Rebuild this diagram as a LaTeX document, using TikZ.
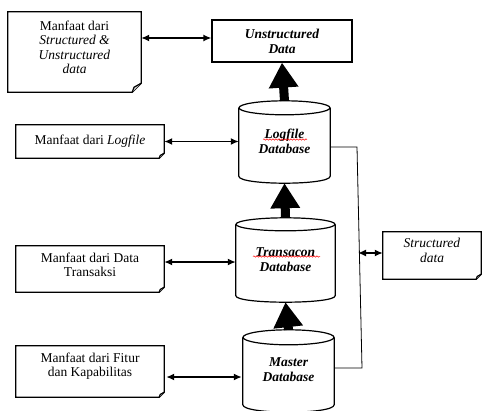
\documentclass[tikz,border=0pt]{standalone}
\usepackage{fontspec}
\setmainfont{Liberation Serif}
\usetikzlibrary{arrows.meta,decorations.pathmorphing}
\newcommand\docshape[2]{%
  \draw[boxline] (#1.north west) -- (#1.north east) -- ([yshift=#2pt]#1.south east)
    -- ([xshift=-#2pt]#1.south east) -- (#1.south west) -- cycle;
  \filldraw[boxline,fill=gray!35] ([yshift=#2pt]#1.south east) -- ([xshift={-0.8*#2pt},yshift={0.55*#2pt}]#1.south east)
    -- ([xshift=-#2pt]#1.south east);
}
\newcommand\cylshape[3]{%
  \draw[boxline] ([yshift=-#3pt]#1.north) ellipse [x radius=#2pt, y radius=#3pt];
  \draw[boxline] ([yshift=-#3pt]#1.north west) -- ([yshift=#3pt]#1.south west)
    .. controls ([yshift={-0.3333*#3pt}]#1.south west) and ([yshift={-0.3333*#3pt}]#1.south east)
    .. ([yshift=#3pt]#1.south east) -- ([yshift=-#3pt]#1.north east);
}
\begin{document}
\begin{tikzpicture}[x=1pt,y=-1pt,
  boxline/.style={line width=1.2pt, line join=miter},
  area/.style={draw=none, inner sep=0pt, rectangle},
  txt/.style={align=center, inner sep=0pt, font=\fontsize{13.5}{14.5}\selectfont},
  btxt/.style={txt, font=\fontsize{13.5}{15}\selectfont\bfseries\itshape},
  dbl/.style={line width=1.5pt, {Latex[length=8pt,width=7pt]}-{Latex[length=8pt,width=7pt]}},
  big/.style={line width=9pt, -{Triangle[length=25pt,width=28pt]}},
  thinline/.style={line width=0.8pt},
  squig/.style={red, line width=0.5pt, decorate, decoration={snake, amplitude=0.7pt, segment length=3pt}}
]
\useasboundingbox[fill=white] (0,0) rectangle (482,410);

% document boxes
\node[area, minimum width=133pt, minimum height=80pt] (d1) at (74.5,52) {};
\docshape{d1}{9}
\node[txt] (d1t) at (74.5,47.5) {Manfaat dari\\\textit{Structured \&}\\\textit{Unstructured}\\\textit{data}};

\node[area, minimum width=148pt, minimum height=33pt] (dlog) at (90,141.5) {};
\docshape{dlog}{5}
\node[txt] (dlogt) at (90,141.5) {Manfaat dari \textit{Logfile}};

\node[area, minimum width=148pt, minimum height=46pt] (dtr) at (90,269) {};
\docshape{dtr}{5}
\node[txt] (dtrt) at (90,265) {Manfaat dari Data\\Transaksi};

\node[area, minimum width=148pt, minimum height=51pt] (dfit) at (90,371.5) {};
\docshape{dfit}{5}
\node[txt] (dfitt) at (90,366) {Manfaat dari Fitur\\dan Kapabilitas};

\node[area, minimum width=98pt, minimum height=47pt] (sd) at (432,255.5) {};
\docshape{sd}{5}
\node[txt] (sdt) at (432,250.5) {\textit{Structured}\\\textit{data}};

% unstructured data box
\node[area, draw, boxline, minimum width=140pt, minimum height=42pt] (unst) at (282,41) {};
\node[btxt] (unstt) at (282,41.5) {Unstructured\\Data};

% cylinders
\node[area, minimum width=91pt, minimum height=82pt] (log) at (284.5,142) {};
\cylshape{log}{45.5}{7}
\node[btxt] (logt) at (284.5,141) {Logfile\\Database};

\node[area, minimum width=99pt, minimum height=84pt] (trans) at (285.5,260) {};
\cylshape{trans}{49.5}{6.5}
\node[btxt] (transt) at (285.5,259.5) {Transacon\\Database};

\node[area, minimum width=91pt, minimum height=82pt] (master) at (288.5,371) {};
\cylshape{master}{45.5}{7.5}
\node[btxt] (mastert) at (288.5,369.5) {Master\\Database};

% spell-check squiggles
\draw[squig] (263,139.5) -- (307,139.5);
\draw[squig] (253,256.5) -- (320,256.5);

% thick arrows
\draw[big] (log.north) -- (unst.south);
\draw[big] (trans.north) -- (log.south);
\draw[big] (master.north) -- (trans.south);

% double arrows
\draw[dbl] (d1.east |- 0,38) -- (unst.west |- 0,38);
\draw[dbl] (dlog.east) -- (log.west |- dlog.east);
\draw[dbl] (dtr.east |- 0,262) -- (trans.west |- 0,262);
\draw[dbl] ([xshift=2pt]dfit.east |- 0,377) -- ([xshift=-1pt]master.west |- 0,377);

% right connector
\coordinate (c1) at (357,147);
\coordinate (c2) at (362,368);
\draw[thinline] (log.east |- c1) -- (c1) -- (c2) -- (master.east |- c2);
\coordinate (c3) at (358,253);
\draw[dbl] (c3) -- (sd.west |- c3);
\end{tikzpicture}
\end{document}
